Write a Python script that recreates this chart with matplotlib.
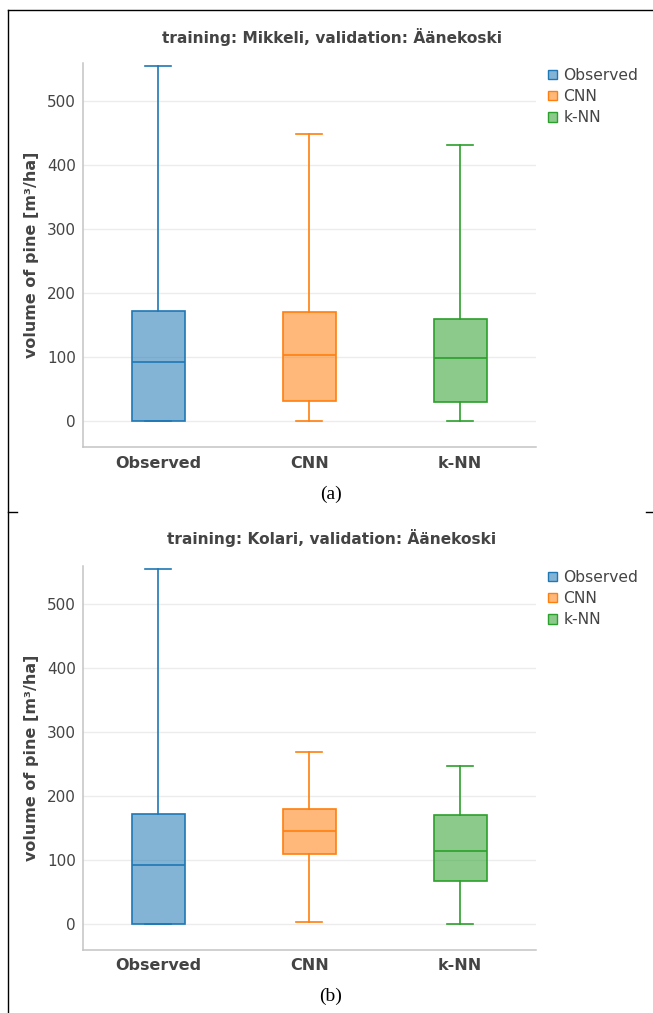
import matplotlib.pyplot as plt
from matplotlib.patches import Patch
from matplotlib.lines import Line2D
from matplotlib.colors import to_rgba

# ---------------------------------------------------------------------------
# Data
# ---------------------------------------------------------------------------
labels = ["Observed", "CNN", "k-NN"]
colors = ["#1f77b4", "#ff7f0e", "#2ca02c"]

# (a) training: Mikkeli, validation: Äänekoski
a_whislo = [0, 0, 0]
a_q1 = [0, 32, 30]
a_med = [93, 104, 99]
a_q3 = [172, 171, 160]
a_whishi = [555, 448, 432]

# (b) training: Kolari, validation: Äänekoski
b_whislo = [0, 4, 0]
b_q1 = [0, 110, 67]
b_med = [93, 145, 114]
b_q3 = [172, 180, 170]
b_whishi = [555, 269, 247]

yticks = [0, 100, 200, 300, 400, 500]

W, H = 653, 1013
TXT = "#444444"


def px(x, y):
    """pixel position (top-left origin) -> figure fraction"""
    return x / W, 1 - y / H


def draw_panel(ax, whislo, q1, med, q3, whishi):
    stats = []
    for i, lab in enumerate(labels):
        stats.append({'label': lab, 'whislo': whislo[i], 'q1': q1[i],
                      'med': med[i], 'q3': q3[i], 'whishi': whishi[i],
                      'fliers': []})
    bp = ax.bxp(stats, positions=range(len(labels)), widths=0.35,
                patch_artist=True, showfliers=False)
    for i, c in enumerate(colors):
        bp['boxes'][i].set(facecolor=to_rgba(c, 0.55), edgecolor=c, lw=1.2)
        bp['medians'][i].set(color=c, lw=1.2)
        for k in (2 * i, 2 * i + 1):
            bp['whiskers'][k].set(color=c, lw=1.2)
            bp['caps'][k].set(color=c, lw=1.2)

    ax.set_xlim(-0.5, 2.5)
    ax.set_ylim(-40.5, 560)
    ax.set_yticks(yticks)
    ax.grid(axis='y', color='#ececec', lw=1.0)
    ax.set_axisbelow(True)
    for s in ('top', 'right'):
        ax.spines[s].set_visible(False)
    for s in ('left', 'bottom'):
        ax.spines[s].set_color('#c4c4c4')
        ax.spines[s].set_linewidth(1.1)
    ax.tick_params(length=0, pad=5, labelcolor=TXT)
    ax.tick_params(axis='y', labelsize=11)
    ax.set_xticks(range(len(labels)))
    ax.set_xticklabels(labels, fontsize=11.5, fontweight='bold', color=TXT)
    ax.tick_params(axis='x', pad=6)
    ax.set_ylabel('volume of pine [m³/ha]', fontsize=11.5,
                  fontweight='bold', color=TXT)
    ax.yaxis.set_label_coords(-0.097, 0.5)


fig = plt.figure(figsize=(W / 100, H / 100), dpi=100)

ax_a = fig.add_axes([82.7 / W, 1 - 447.3 / H, 453 / W, 384.6 / H])
draw_panel(ax_a, a_whislo, a_q1, a_med, a_q3, a_whishi)

ax_b = fig.add_axes([82.7 / W, 1 - 950 / H, 453 / W, 384.3 / H])
draw_panel(ax_b, b_whislo, b_q1, b_med, b_q3, b_whishi)

handles = [Patch(facecolor=to_rgba(c, 0.55), edgecolor=c, lw=1.0, label=l)
           for c, l in zip(colors, labels)]
for top in (68, 570):
    fig.legend(handles=handles, loc='upper left',
               bbox_to_anchor=px(548, top), frameon=False, fontsize=11.2,
               handlelength=0.55, handleheight=0.55, handletextpad=0.45,
               labelspacing=0.4, borderpad=0, borderaxespad=0,
               labelcolor=TXT)

# titles
fig.text(*px(332, 37), 'training: Mikkeli, validation: Äänekoski',
         ha='center', va='center', fontsize=11.1, fontweight='bold', color=TXT)
fig.text(*px(332, 538), 'training: Kolari, validation: Äänekoski',
         ha='center', va='center', fontsize=11.1, fontweight='bold', color=TXT)

# captions
fig.text(*px(331, 494), '(a)', ha='center', va='center', fontsize=14,
         family='Liberation Serif', color='black')
fig.text(*px(331, 996), '(b)', ha='center', va='center', fontsize=14,
         family='Liberation Serif', color='black')

# frame lines of the original layout
frame = [((8, 10), (8, 1013)), ((8, 10), (653, 10)),
         ((8, 512), (17, 512)), ((646, 512), (653, 512))]
for (x0, y0), (x1, y1) in frame:
    p0, p1 = px(x0, y0), px(x1, y1)
    fig.add_artist(Line2D([p0[0], p1[0]], [p0[1], p1[1]], color='black',
                          lw=1.0, transform=fig.transFigure))

fig.savefig('out.png', dpi=100)
